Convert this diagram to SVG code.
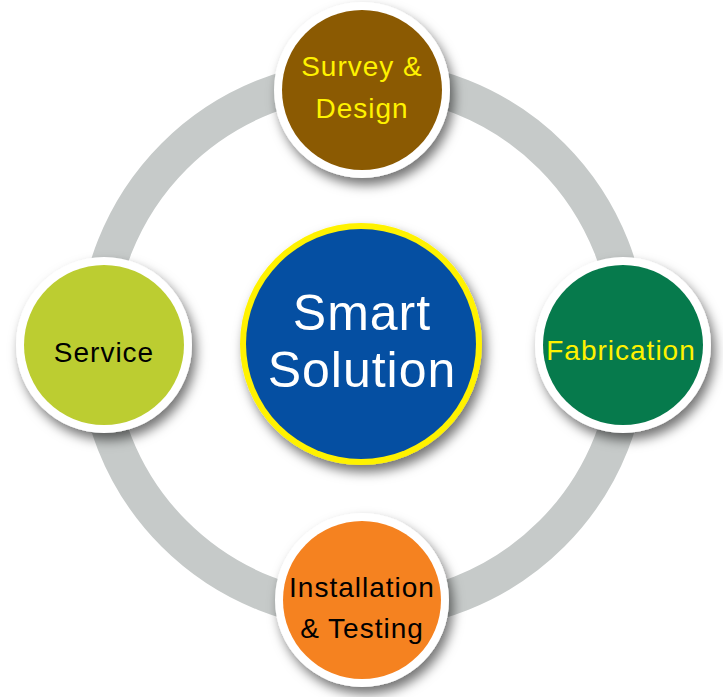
<svg xmlns="http://www.w3.org/2000/svg" width="723" height="697" viewBox="0 0 723 697">
  <defs>
    <filter id="shadow" x="-30%" y="-30%" width="170%" height="170%">
      <feDropShadow dx="4" dy="7" stdDeviation="6" flood-color="#000" flood-opacity="0.55"/>
    </filter>
    <style>
      .ring { fill: none; stroke: #c6cac9; stroke-width: 36; }
      .halo { fill: #ffffff; filter: url(#shadow); }
      .lbl { font-family: "Liberation Sans", Arial, sans-serif; font-size: 28px; letter-spacing: 1px; text-anchor: middle; }
      .yel { fill: #fff200; }
      .blk { fill: #000000; }
      .big { font-family: "Liberation Sans", Arial, sans-serif; font-size: 50px; letter-spacing: 1px; text-anchor: middle; fill: #ffffff; }
    </style>
  </defs>
  <rect width="723" height="697" fill="#ffffff"/>

  <g id="connectors">
    <circle class="ring" cx="363" cy="345" r="267"/>
  </g>

  <g id="center">
    <circle cx="361" cy="344" r="121" fill="#fff200" filter="url(#shadow)"/>
    <circle cx="361" cy="344" r="115" fill="#054fa2"/>
    <text class="big" x="362" y="330">Smart</text>
    <text class="big" x="362" y="387">Solution</text>
  </g>

  <g id="survey-design">
    <circle class="halo" cx="362" cy="90" r="88"/>
    <circle cx="362" cy="90" r="80" fill="#8b5a02"/>
    <text class="lbl yel" x="362" y="76">Survey &amp;</text>
    <text class="lbl yel" x="362" y="118">Design</text>
  </g>

  <g id="fabrication">
    <circle class="halo" cx="623" cy="345" r="88"/>
    <circle cx="623" cy="345" r="80" fill="#067a4c"/>
    <text class="lbl yel" x="621" y="360">Fabrication</text>
  </g>

  <g id="installation-testing">
    <circle class="halo" cx="362" cy="600" r="87"/>
    <circle cx="362" cy="600" r="79" fill="#f58220"/>
    <text class="lbl blk" x="362" y="597">Installation</text>
    <text class="lbl blk" x="362" y="638">&amp; Testing</text>
  </g>

  <g id="service">
    <circle class="halo" cx="104" cy="345" r="88"/>
    <circle cx="104" cy="345" r="80" fill="#bccd31"/>
    <text class="lbl blk" x="104" y="362">Service</text>
  </g>
</svg>
